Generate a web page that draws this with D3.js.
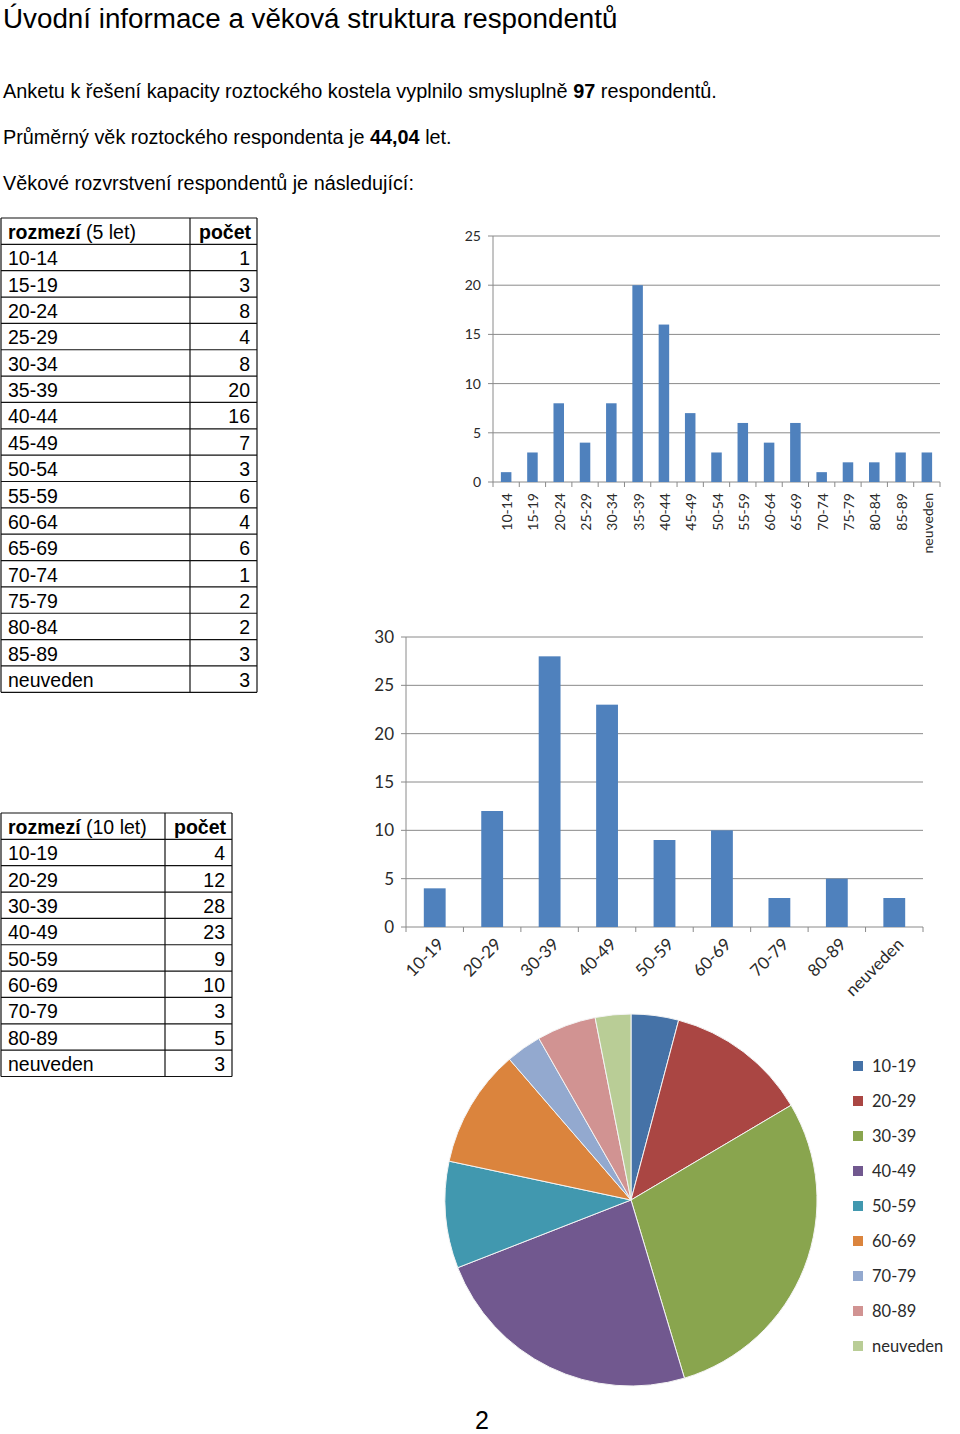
<!DOCTYPE html>
<html><head><meta charset="utf-8">
<script src="https://cdn.jsdelivr.net/npm/d3@7"></script>
<style>body{margin:0;background:#fff}svg{display:block}</style>
</head><body>
<svg id="page" width="960" height="1434"></svg>
<script>
// ---- data ----
const cats5 = ["10-14","15-19","20-24","25-29","30-34","35-39","40-44","45-49","50-54","55-59","60-64","65-69","70-74","75-79","80-84","85-89","neuveden"];
const vals5 = [1,3,8,4,8,20,16,7,3,6,4,6,1,2,2,3,3];
const cats10 = ["10-19","20-29","30-39","40-49","50-59","60-69","70-79","80-89","neuveden"];
const vals10 = [4,12,28,23,9,10,3,5,3];
const ticks5 = [0,5,10,15,20,25];
const ticks10 = [0,5,10,15,20,25,30];
const pieColors = ["#4572a7","#aa4643","#89a54e","#71588f","#4198af","#db843d","#93a9cf","#d19392","#b9cd96"];

const svg = d3.select("#page");
svg.append("rect").attr("width",960).attr("height",1434).attr("fill","#fff");

const SANS = "'Liberation Sans', Arial, Helvetica, sans-serif";
const CHART = "Lato, 'Open Sans', sans-serif";

// ---- header text ----
function fit(t, x, w){
  const cw = t.node().getComputedTextLength();
  t.attr("transform", `translate(${x},0) scale(${w/cw},1) translate(${-x},0)`);
}
const title = svg.append("text").attr("x",3).attr("y",28).attr("font-family",SANS).attr("font-size",28).attr("fill","#000")
  .text("Úvodní informace a věková struktura respondentů");
fit(title,3,615);

function para(y, parts, w){
  const t = svg.append("text").attr("x",3).attr("y",y).attr("font-family",SANS).attr("font-size",20).attr("fill","#000");
  parts.forEach(p => t.append("tspan").attr("font-weight", p[1] ? "bold" : "normal").text(p[0]));
  fit(t,3,w);
}
para(98, [["Anketu k řešení kapacity roztockého kostela vyplnilo smysluplně ",0],["97",1],[" respondentů.",0]], 714);
para(144, [["Průměrný věk roztockého respondenta je ",0],["44,04",1],[" let.",0]], 449);
para(190, [["Věkové rozvrstvení respondentů je následující:",0]], 411);

// ---- tables ----
const TFS = 19.5;
function table(x0, y0, xc, x1, rowH, suffix, cats, vals){
  const g = svg.append("g");
  const n = cats.length + 1;
  for(let i=0;i<=n;i++){
    g.append("line").attr("x1",x0).attr("x2",x1).attr("y1",y0+i*rowH).attr("y2",y0+i*rowH)
      .attr("stroke","#111").attr("stroke-width",1.2);
  }
  [x0,xc,x1].forEach(x => g.append("line").attr("x1",x).attr("x2",x).attr("y1",y0).attr("y2",y0+n*rowH)
      .attr("stroke","#111").attr("stroke-width",1.2));
  const h = g.append("text").attr("x",x0+7).attr("y",y0+21).attr("font-family",SANS).attr("font-size",TFS).attr("fill","#000");
  h.append("tspan").attr("font-weight","bold").text("rozmezí");
  h.append("tspan").text(" " + suffix);
  g.append("text").attr("x",x1-6).attr("y",y0+21).attr("text-anchor","end").attr("font-family",SANS)
    .attr("font-size",TFS).attr("font-weight","bold").text("počet");
  cats.forEach((c,i)=>{
    const y = y0 + (i+1)*rowH + 21;
    g.append("text").attr("x",x0+7).attr("y",y).attr("font-family",SANS).attr("font-size",TFS).text(c);
    g.append("text").attr("x",x1-7).attr("y",y).attr("text-anchor","end").attr("font-family",SANS).attr("font-size",TFS).text(vals[i]);
  });
}
table(1, 218, 190, 257, 26.35, "(5 let)", cats5, vals5);
table(1, 813, 165, 232, 26.35, "(10 let)", cats10, vals10);

// ---- bar charts ----
function bars(opt){
  const g = svg.append("g");
  const x = d3.scaleBand().domain(opt.cats).range([opt.x0, opt.x1]).paddingInner(opt.pad).paddingOuter(opt.pad/2);
  const y = d3.scaleLinear().domain([0, opt.max]).range([opt.y0, opt.yTop]);
  const grid = "#8a8a8a";
  opt.ticks.forEach(t=>{
    g.append("line").attr("x1",opt.x0-5).attr("x2",opt.x1).attr("y1",y(t)).attr("y2",y(t)).attr("stroke",grid).attr("stroke-width",1);
    g.append("text").attr("x",opt.x0-12).attr("y",y(t)).attr("dy","0.36em").attr("text-anchor","end")
      .attr("font-family",CHART).attr("font-size",opt.yfs).attr("fill","#2a2a2a").text(t);
  });
  g.append("line").attr("x1",opt.x0).attr("x2",opt.x0).attr("y1",opt.yTop).attr("y2",opt.y0).attr("stroke",grid);
  const step = x.step();
  for(let i=0;i<=opt.cats.length;i++){
    const xx = opt.x0 + i*step;
    g.append("line").attr("x1",xx).attr("x2",xx).attr("y1",opt.y0).attr("y2",opt.y0+5).attr("stroke",grid);
  }
  g.selectAll("rect.bar").data(opt.vals).enter().append("rect").attr("class","bar")
    .attr("x",(d,i)=>x(opt.cats[i])).attr("width",x.bandwidth())
    .attr("y",d=>y(d)).attr("height",d=>opt.y0-y(d)).attr("fill","#4f81bd");
  opt.cats.forEach(c=>{
    const cx = x(c) + x.bandwidth()/2;
    if(opt.rot === -90){
      g.append("text").attr("transform",`translate(${cx+1},${opt.y0+11}) rotate(-90)`).attr("dy","0.36em")
        .attr("text-anchor","end").attr("font-family",CHART).attr("font-size",opt.xfs).attr("fill","#2a2a2a").text(c);
    } else {
      g.append("text").attr("transform",`translate(${cx+6},${opt.y0+14}) rotate(-45)`).attr("dy","0.36em")
        .attr("text-anchor","end").attr("font-family",CHART).attr("font-size",opt.xfs).attr("fill","#2a2a2a").text(c);
    }
  });
}
bars({cats:cats5, vals:vals5, ticks:ticks5, max:25, x0:493, x1:940, y0:482, yTop:236, pad:0.6, rot:-90, yfs:14, xfs:14});
bars({cats:cats10, vals:vals10, ticks:ticks10, max:30, x0:406, x1:923, y0:927, yTop:637, pad:0.62, rot:-45, yfs:17, xfs:17});

// ---- pie ----
const pg = svg.append("g").attr("transform","translate(631,1200)");
const pie = d3.pie().sort(null).value(d=>d);
const arc = d3.arc().innerRadius(0).outerRadius(186);
pg.selectAll("path").data(pie(vals10)).enter().append("path")
  .attr("d",arc).attr("fill",(d,i)=>pieColors[i]).attr("stroke","#f4f4f4").attr("stroke-width",1);

const lg = svg.append("g");
cats10.forEach((c,i)=>{
  const yy = 1066 + i*35;
  lg.append("rect").attr("x",853).attr("y",yy-5).attr("width",10).attr("height",10).attr("fill",pieColors[i]);
  lg.append("text").attr("x",872).attr("y",yy).attr("dy","0.36em").attr("font-family",CHART).attr("font-size",16.5).attr("fill","#2a2a2a").text(c);
});

svg.append("text").attr("x",482).attr("y",1429).attr("text-anchor","middle").attr("font-family",SANS).attr("font-size",25).text("2");
</script>
</body></html>
